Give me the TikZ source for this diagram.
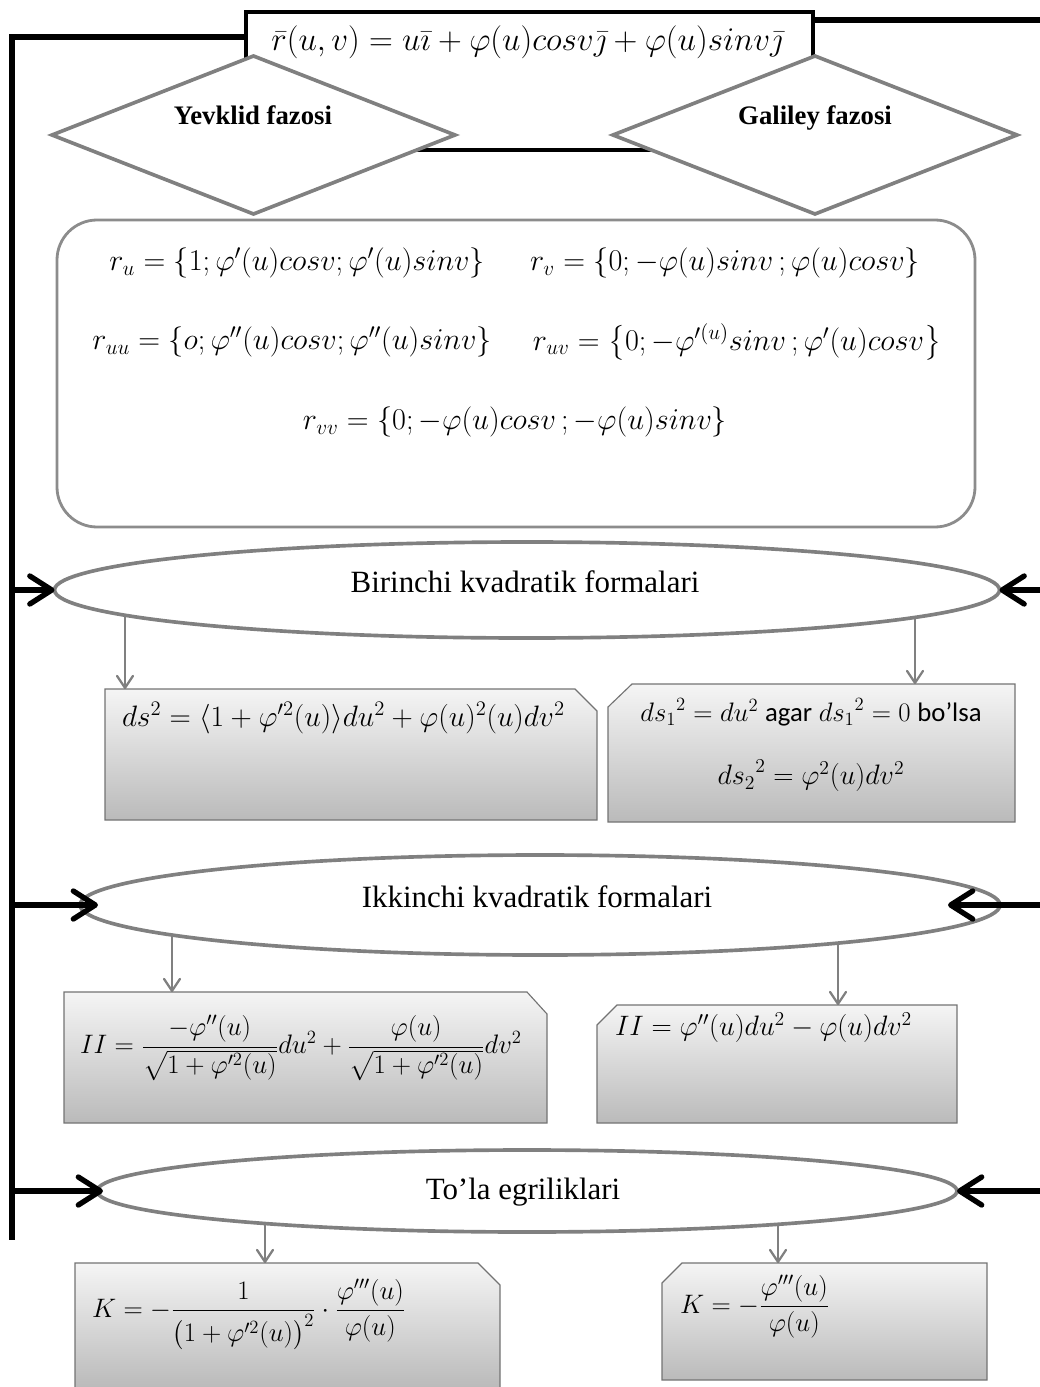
\RequirePackage{fix-cm}
\documentclass[tikz,border=0pt]{standalone}
\usepackage{amsmath}
\usepackage{fontspec}
\setmainfont{Liberation Serif}
\newfontfamily\carlito{Carlito}
\usetikzlibrary{shapes.geometric,arrows.meta,calc,backgrounds}
\newcommand{\pxu}{0.25mm}

\begin{document}
\begin{tikzpicture}[x=0.25mm,y=-0.25mm]
\tikzset{ inner sep=0pt, outer sep=0pt,
  fml/.style={font=\fontsize{21.5}{26}\selectfont},
  fbx/.style={font=\fontsize{20}{24}\selectfont},
  fsm/.style={font=\fontsize{19}{23}\selectfont},
  ttl/.style={font=\fontsize{22}{26}\selectfont, anchor=base},
  dttl/.style={font=\fontsize{19}{23}\selectfont\bfseries, anchor=base},
  tbox/.style={draw=black, line width=2.4pt, fill=white},
  dia/.style={diamond, draw=black!50, line width=2.6pt, fill=white},
  rbox/.style={rectangle, rounded corners=10mm, draw=black!45, line width=2pt},
  elli/.style={ellipse, draw=black!50, line width=2.6pt, fill=white},
  bx/.style={rectangle},
  frm/.style={draw=black!55, line width=0.8pt, top color=black!4, bottom color=black!27},
  bline/.style={line width=3.8pt},
  barrow/.style={bline, -{Straight Barb[round,length=5.5mm,width=7mm]}},
  garrow/.style={draw=black!50, line width=1.6pt, -{Straight Barb[round,length=3mm,width=4mm]}},
}
\useasboundingbox (0,0) rectangle (1040,1387);

\node [tbox, minimum width=567*\pxu, minimum height=138*\pxu] (top) at (529.5,81) {};
\node [fml, font=\fontsize{23.5}{28}\selectfont] (ftop) at (527,42) {$\bar{r}(u,v) = u\bar{\imath} + \varphi(u)cosv\bar{\jmath} + \varphi(u)sinv\bar{\jmath}$};

\node [dia, minimum width=403*\pxu, minimum height=158*\pxu] (dY) at (253.5,135) {};
\node [dia, minimum width=404*\pxu, minimum height=158*\pxu] (dG) at (815,135) {};
\node [dttl] (tY) at (253,125) {Yevklid fazosi};
\node [dttl] (tG) at (815,125) {Galiley fazosi};

\node [rbox, minimum width=918*\pxu, minimum height=307*\pxu] (der) at (516,373.5) {};
\node [fml] (fru)  at (297,263) {$r_u = \{1;\varphi'(u)cosv;\varphi'(u)sinv\}$};
\node [fml] (frv)  at (725,263) {$r_v = \{0;-\varphi(u)sinv\,;\varphi(u)cosv\}$};
\node [fml] (fruu) at (292,342) {$r_{uu} = \{o;\varphi''(u)cosv;\varphi''(u)sinv\}$};
\node [fml] (fruv) at (737,342) {$r_{uv} = \big\{0;-\varphi^{\prime(u)}sinv\,;\varphi'(u)cosv\big\}$};
\node [fml] (frvv) at (515,422) {$r_{vv} = \{0;-\varphi(u)cosv\,;-\varphi(u)sinv\}$};

\node [elli, minimum width=945*\pxu, minimum height=96*\pxu]  (e1) at (527,590) {};
\node [elli, minimum width=920*\pxu, minimum height=100*\pxu] (e2) at (540,905) {};
\node [elli, minimum width=860*\pxu, minimum height=82*\pxu]  (e3) at (527,1191) {};
\node [ttl] (t1) at (525,592) {Birinchi kvadratik formalari};
\node [ttl] (t2) at (537,907) {Ikkinchi kvadratik formalari};
\node [ttl] (t3) at (523,1199) {To’la egriliklari};

\node [bx, minimum width=492*\pxu, minimum height=131*\pxu] (bA) at (351,754.5) {};
\node [bx, minimum width=407*\pxu, minimum height=138*\pxu] (bB) at (811.5,753) {};
\node [bx, minimum width=483*\pxu, minimum height=131*\pxu] (bC) at (305.5,1057.5) {};
\node [bx, minimum width=360*\pxu, minimum height=118*\pxu] (bD) at (777,1064) {};
\node [bx, minimum width=425*\pxu, minimum height=125*\pxu] (bE) at (287.5,1325.5) {};
\node [bx, minimum width=325*\pxu, minimum height=117*\pxu] (bF) at (824.5,1321.5) {};

\path [frm] (bA.south west) |- ($(bA.north east)+(-22,0)$) -- ($(bA.north east)+(0,22)$) -- (bA.south east) -- cycle;
\path [frm] (bB.south east) |- ($(bB.north west)+(24,0)$) -- ($(bB.north west)+(0,23)$) -- (bB.south west) -- cycle;
\path [frm] (bC.south west) |- ($(bC.north east)+(-20,0)$) -- ($(bC.north east)+(0,22)$) -- (bC.south east) -- cycle;
\path [frm] (bD.south east) |- ($(bD.north west)+(20,0)$) -- ($(bD.north west)+(0,20)$) -- (bD.south west) -- cycle;
\path [frm] (bE.south west) |- ($(bE.north east)+(-22,0)$) -- ($(bE.north east)+(0,22)$) -- (bE.south east) -- cycle;
\path [frm] (bF.south east) |- ($(bF.north west)+(20,0)$) -- ($(bF.north west)+(0,20)$) -- (bF.south west) -- cycle;

\node [fbx, anchor=west, font=\fontsize{21}{25}\selectfont] (fA) at (122,718) {$ds^2 = \langle 1+\varphi'^2(u)\rangle du^2 + \varphi(u)^2(u)dv^2$};
\node [fsm] (fB1) at (811,712) {${ds_1}^2 = du^2$ {\carlito agar} ${ds_1}^2 = 0$ {\carlito bo’lsa}};
\node [fbx] (fB2) at (811,776) {${ds_2}^2 = \varphi^2(u)dv^2$};
\node [fsm, anchor=west] (fC) at (80,1048) {$II = \dfrac{-\varphi''(u)}{\sqrt{1+\varphi'^2(u)}}du^2 + \dfrac{\varphi(u)}{\sqrt{1+\varphi'^2(u)}}dv^2$};
\node [fbx, anchor=west] (fD) at (615,1028) {$II = \varphi''(u)du^2 - \varphi(u)dv^2$};
\node [fsm, anchor=west] (fE) at (92,1315) {$K = -\dfrac{1}{\bigl(1+\varphi'^2(u)\bigr)^2}\cdot\dfrac{\varphi'''(u)}{\varphi(u)}$};
\node [fsm, anchor=west] (fF) at (680,1307) {$K = -\dfrac{\varphi'''(u)}{\varphi(u)}$};

\coordinate (L0) at (12,37);
\coordinate (L1) at (12,1240);
\coordinate (R0) at (1040,20);

\draw [bline] (top.west |- L0) -- (L0) -- (L1);
\draw [bline] (top.east |- R0) -- (R0);

\draw [barrow] (L0 |- e1) -- (e1.west);
\draw [barrow] (R0 |- e1) -- (e1.east);
\draw [barrow] (L0 |- e2) -- ($(e2.west)+(18,0)$);
\draw [barrow] (R0 |- e2) -- ($(e2.east)+(-52,0)$);
\draw [barrow] (L0 |- e3) -- ($(e3.west)+(6,0)$);
\draw [barrow] (R0 |- e3) -- (e3.east);

\coordinate (a1) at ($(bA.north)+(-226,0)$);
\coordinate (a2) at ($(bB.north)+(103.5,0)$);
\coordinate (a3) at ($(bC.north)+(-133.5,0)$);
\coordinate (a4) at ($(bD.north)+(61,0)$);
\coordinate (a5) at ($(bE.north)+(-22.5,0)$);
\coordinate (a6) at ($(bF.north)+(-46.5,0)$);

\begin{scope}[on background layer]
\draw [garrow] (e1 -| a1) -- (a1);
\draw [garrow] (e1 -| a2) -- (a2);
\draw [garrow] (e2 -| a3) -- (a3);
\draw [garrow] (e2 -| a4) -- (a4);
\draw [garrow] (e3 -| a5) -- (a5);
\draw [garrow] (e3 -| a6) -- (a6);
\end{scope}

\end{tikzpicture}
\end{document}
